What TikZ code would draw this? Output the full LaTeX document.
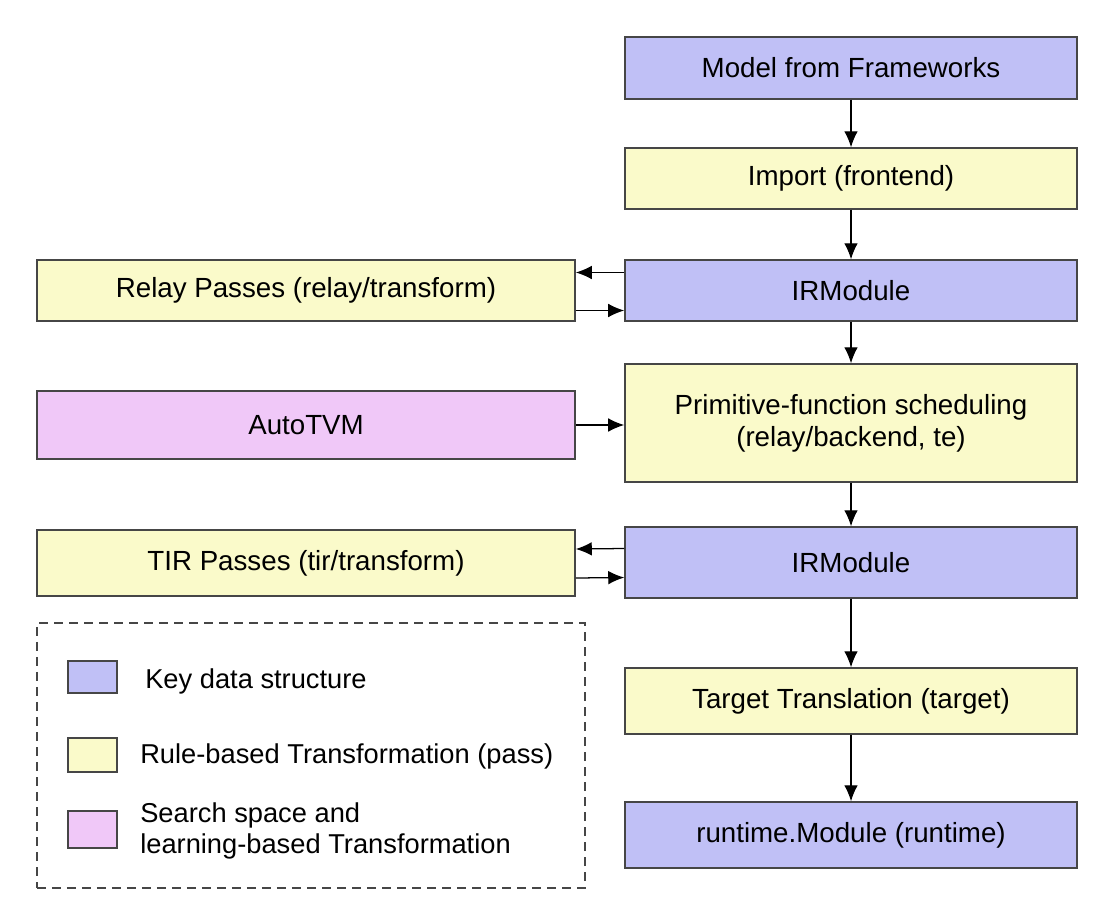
\documentclass[tikz,border=0pt]{standalone}
\usepackage{fontspec}
\setmainfont{Liberation Sans}
\usetikzlibrary{positioning, arrows.meta, calc}
\definecolor{keyBlue}{RGB}{192, 192, 246}
\definecolor{ruleYellow}{RGB}{250, 250, 202}
\definecolor{searchPink}{RGB}{240, 200, 248}
\definecolor{edgeGray}{RGB}{70, 70, 70}

\begin{document}
\begin{tikzpicture}[
        x=0.025cm, y=-0.025cm,
        box/.style={
            rectangle,
            draw=edgeGray,
            line width=1pt,
            inner sep=0pt,
            align=center,
            font=\fontsize{19.7}{22.7}\selectfont
        },
        keyds/.style={box, fill=keyBlue, minimum width=11.3cm},
        rulepass/.style={box, fill=ruleYellow, minimum width=11.3cm},
        sidepass/.style={box, fill=ruleYellow, minimum width=13.45cm},
        search/.style={box, fill=searchPink, minimum width=13.45cm},
        swatch/.style={
            rectangle,
            draw=edgeGray,
            line width=1pt,
            minimum width=1.225cm
        },
        legtext/.style={
            anchor=west,
            inner sep=0pt,
            align=left,
            font=\fontsize{19.4}{22}\selectfont
        },
        flecha/.style={
            -{Latex[length=4mm, width=3.4mm]},
            line width=0.9pt
        }
    ]
    \useasboundingbox (0,0) rectangle (1104,902);

    % main flow
    \node[keyds, minimum height=1.55cm] (model) at (851,68) {Model from Frameworks};
    \node[rulepass, minimum height=1.525cm] (import) at (851,178.5) {Import (frontend)};
    \node[keyds, minimum height=1.525cm] (irmodA) at (851,290.5) {IRModule};
    \node[rulepass, minimum height=2.95cm] (prim) at (851,423) {Primitive-function scheduling\\(relay/backend, te)};
    \node[keyds, minimum height=1.775cm] (irmodB) at (851,562.5) {IRModule};
    \node[rulepass, minimum height=1.65cm] (target) at (851,701) {Target Translation (target)};
    \node[keyds, minimum height=1.65cm] (runtime) at (851,835) {runtime.Module (runtime)};

    % side boxes
    \node[sidepass, minimum height=1.525cm] (relay) at (306,290.5) {Relay Passes (relay/transform)};
    \node[search, minimum height=1.7cm] (autotvm) at (306,425) {AutoTVM};
    \node[sidepass, minimum height=1.65cm] (tir) at (306,563) {TIR Passes (tir/transform)};

    \draw[flecha] (model) -- (import);
    \draw[flecha] (import) -- (irmodA);
    \draw[flecha] (irmodA) -- (prim);
    \draw[flecha] (prim) -- (irmodB);
    \draw[flecha] (irmodB) -- (target);
    \draw[flecha] (target) -- (runtime);

    \draw[flecha] ($(irmodA.west)+(0,-18)$) -- ($(relay.east)+(0,-18)$);
    \draw[flecha] ($(relay.east)+(0,20)$) -- ($(irmodA.west)+(0,20)$);
    \draw[flecha] (autotvm.east) -- (autotvm.east -| prim.west);
    \draw[flecha] ($(irmodB.west)+(0,-14)$) -- ($(tir.east)+(0,-14)$);
    \draw[flecha] ($(tir.east)+(0,15)$) -- ($(irmodB.west)+(0,15)$);

    % legend
    \node[draw=edgeGray, line width=1pt, dash pattern=on 0.225cm off 0.15cm,
          minimum width=13.7cm, minimum height=6.625cm] (legend) at (311,755.5) {};
    \node[swatch, fill=keyBlue, minimum height=0.8cm] (swBlue) at (92.5,677) {};
    \node[swatch, fill=ruleYellow, minimum height=0.85cm] (swYellow) at (92.5,755) {};
    \node[swatch, fill=searchPink, minimum height=0.925cm] (swPink) at (92.5,829.5) {};
    \node[legtext] (txtBlue) at (145,681) {Key data structure};
    \node[legtext] (txtYellow) at (140,756) {Rule-based Transformation (pass)};
    \node[legtext] (txtPink) at (140,831) {Search space and\\learning-based Transformation};

\end{tikzpicture}
\end{document}
